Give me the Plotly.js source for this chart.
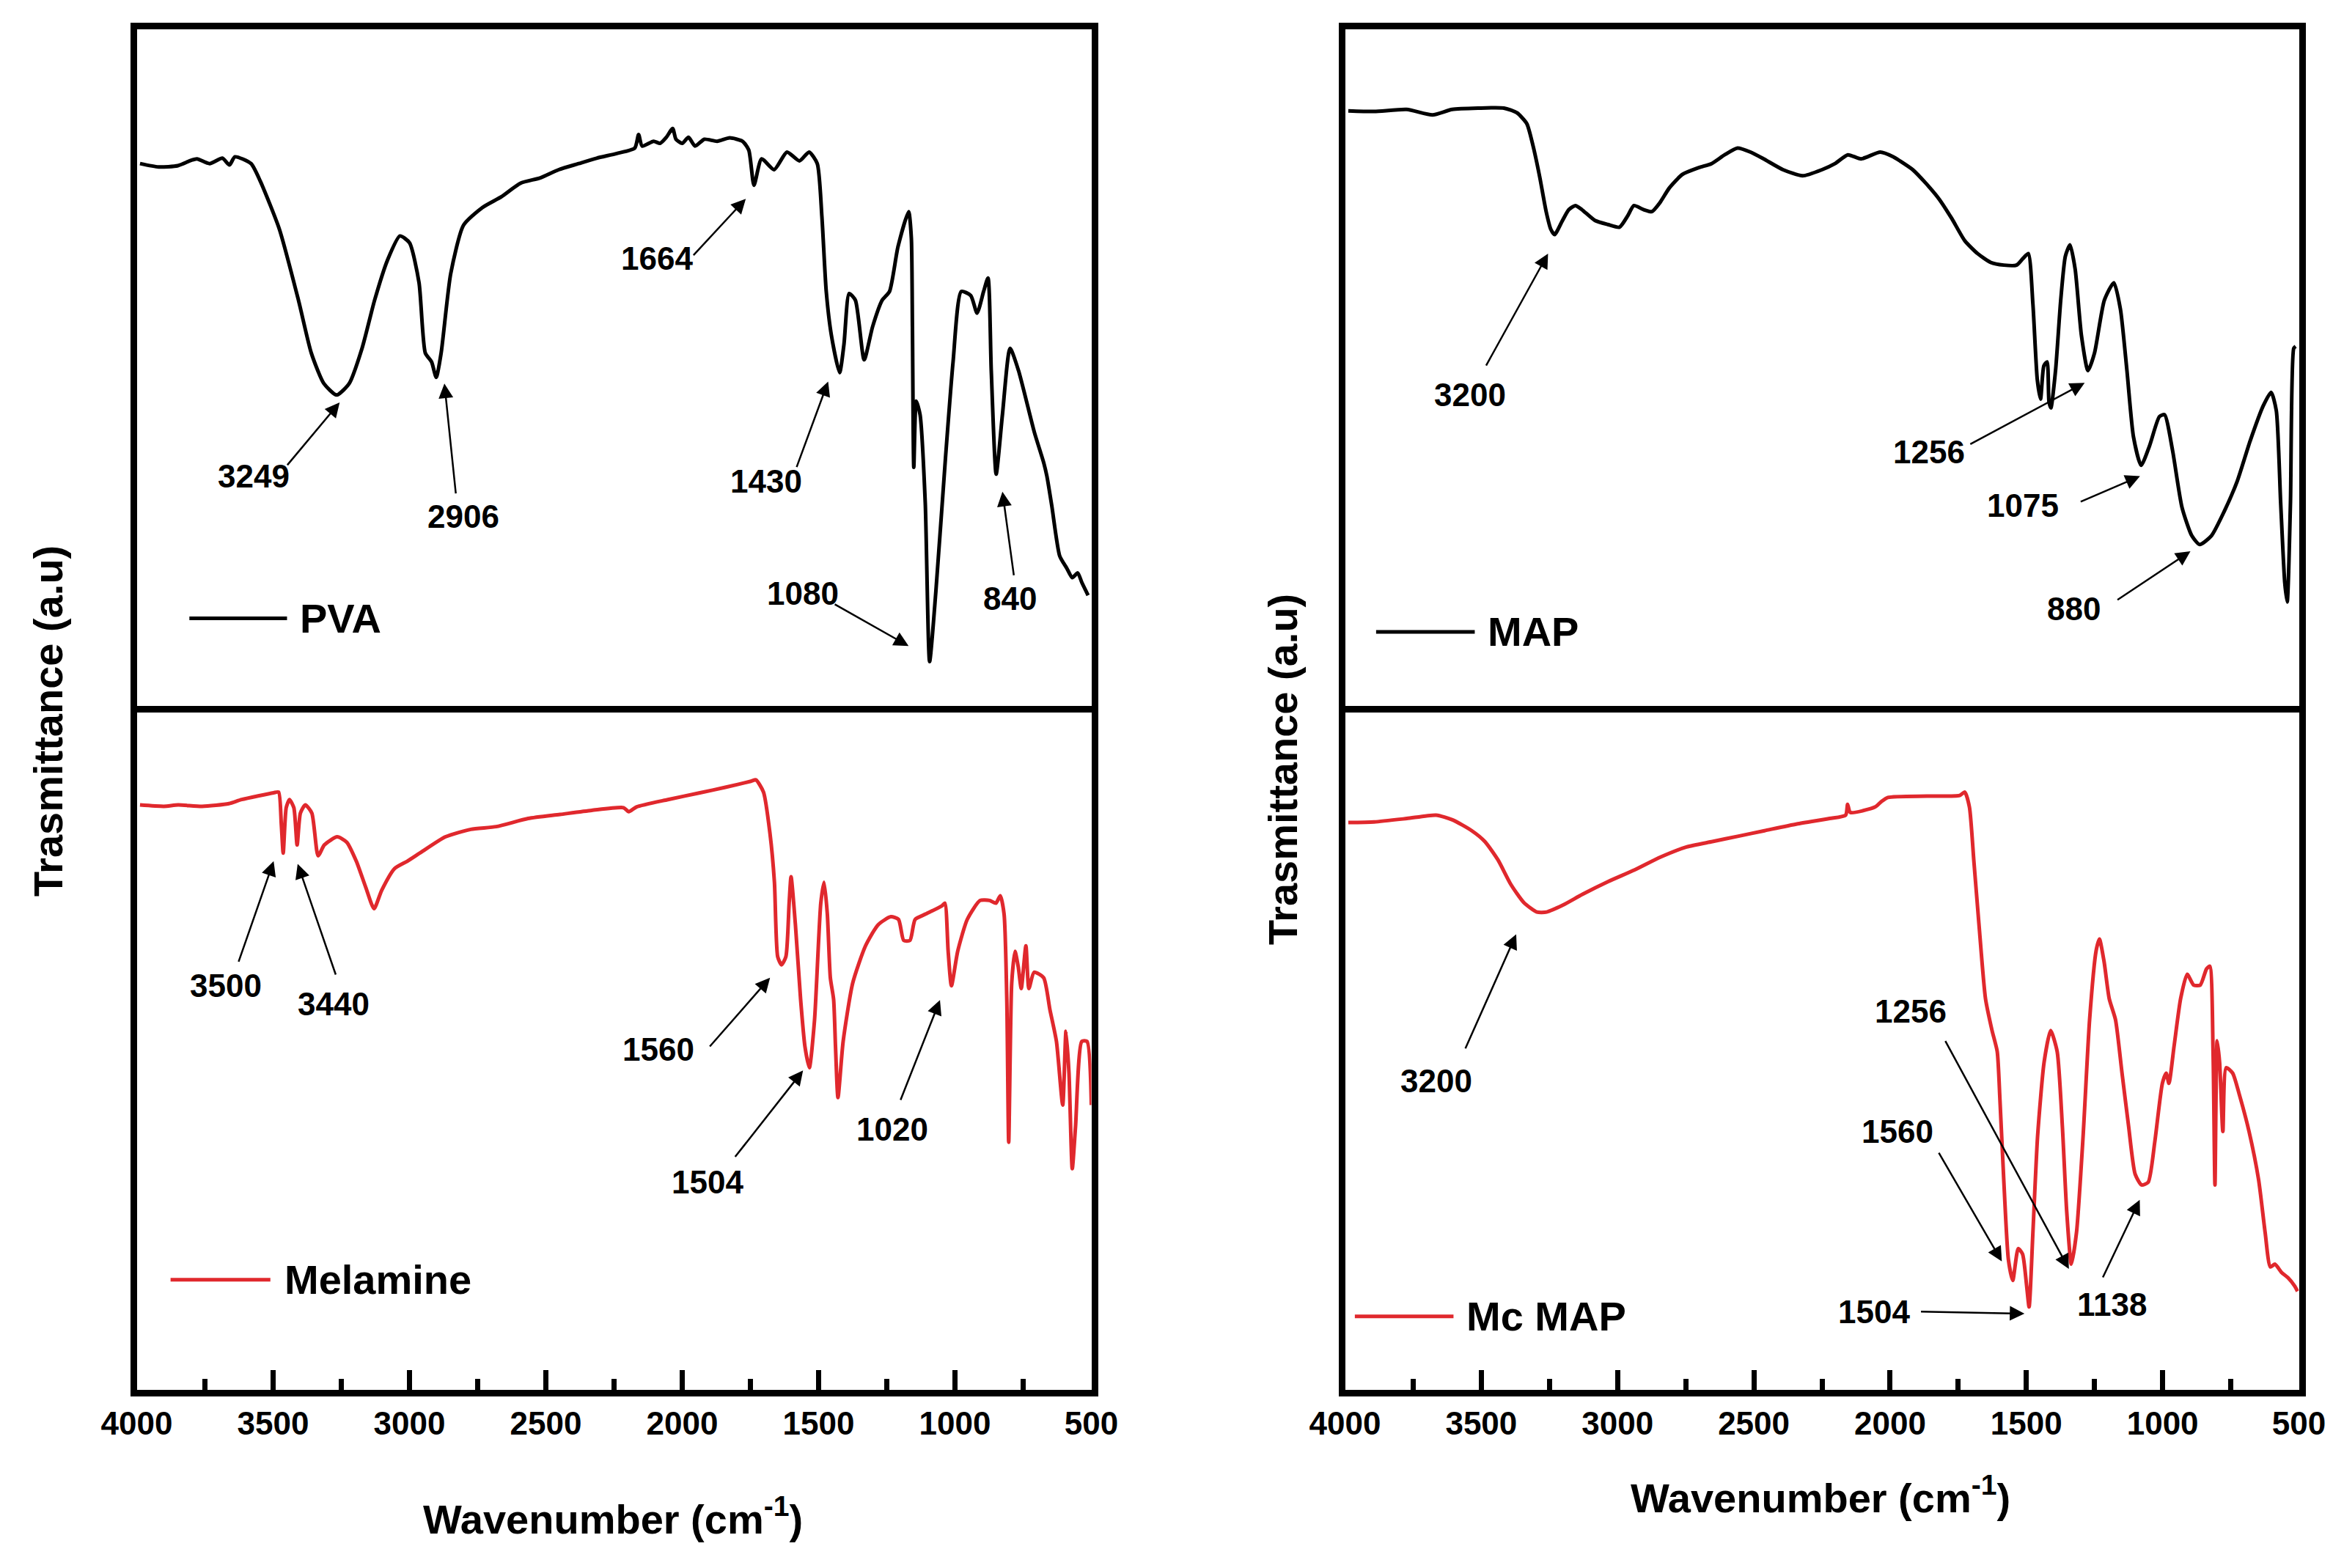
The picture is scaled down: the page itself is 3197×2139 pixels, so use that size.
<!DOCTYPE html>
<html>
<head>
<meta charset="utf-8">
<script src="https://cdn.plot.ly/plotly-3.0.1.min.js"></script>
<style>html,body{margin:0;padding:0;background:#fff;}#chart{width:3197px;height:2139px;}</style>
</head>
<body>
<div id="chart"></div>
<script>
// ---------------- DATA ----------------
const seriesNames = ['PVA', 'Melamine', 'MAP', 'Mc MAP'];
const tickValues = [4000, 3500, 3000, 2500, 2000, 1500, 1000, 500];
const tickLabels = ['4000', '3500', '3000', '2500', '2000', '1500', '1000', '500'];
const xTitle = 'Wavenumber (cm<sup>-1</sup>)';
const yTitle = 'Trasmittance (a.u)';

// PVA (top-left)
const pvaWn = [3988,3920,3849,3800,3779,3733,3686,3660,3640,3581,3547,3477,3407,3360,3314,3267,3221,3174,3128,3081,3035,3000,2965,2942,2919,2902,2884,2849,2802,2733,2663,2593,2520,2453,2380,2314,2240,2174,2160,2147,2105,2081,2058,2035,2023,2000,1977,1953,1919,1872,1826,1779,1756,1737,1709,1663,1616,1570,1535,1505,1488,1472,1453,1423,1407,1388,1365,1333,1302,1267,1240,1209,1170,1160,1156,1151,1142,1128,1109,1093,1070,1035,1007,977,942,919,895,879,867,849,826,798,767,709,674,663,645,616,590,570,550,535,512];
const pvaT  = [80.1,79.6,79.8,80.6,80.8,80.1,80.9,79.9,81.1,80.1,77.5,70.4,59.9,52.1,47.6,45.9,47.6,52.8,59.9,65.8,69.4,68.4,62.5,52.1,50.8,48.5,52.1,63.8,71.0,73.6,75.2,77.2,78.0,79.2,80.1,80.9,81.6,82.4,84.4,82.7,83.4,83.1,84.0,85.3,83.7,83.1,84.0,82.7,83.7,83.4,83.9,83.4,82.1,76.9,80.8,79.2,81.8,80.5,81.8,80.1,72.3,61.2,54.7,49.2,53.4,60.9,59.9,51.1,56.0,59.9,61.2,67.8,73.0,69.1,56.0,35.2,45.0,43.0,30.0,6.5,16.9,36.5,50.8,61.2,60.6,58.0,61.2,63.2,49.5,34.2,43.0,52.8,49.5,40.4,35.8,33.9,29.5,22.1,20.3,18.9,19.6,18.2,16.3];

// Melamine (bottom-left)
const melWn = [3988,3900,3848,3760,3662,3615,3498,3480,3470,3463,3452,3440,3424,3412,3400,3382,3358,3335,3312,3265,3230,3195,3160,3130,3102,3055,3008,2962,2868,2775,2682,2565,2448,2332,2215,2196,2168,2052,1935,1842,1748,1730,1702,1678,1662,1650,1636,1620,1608,1601,1585,1566,1550,1534,1515,1492,1480,1468,1457,1445,1438,1429,1410,1375,1328,1282,1235,1207,1188,1165,1146,1107,1048,1037,1025,1013,990,955,908,873,850,834,820,810,803,792,780,768,757,740,729,710,675,652,628,605,593,582,570,558,535,516,500];
const melT  = [86.3,86.1,86.3,86.1,86.5,87.1,88.1,88.2,83.5,79.2,85.9,87.1,85.9,80.4,85.1,86.3,85.1,78.8,80.4,81.6,80.8,78.0,74.1,71.0,73.7,76.9,78.0,79.2,81.6,82.7,83.1,84.3,84.9,85.5,85.9,85.3,86.0,87.1,88.1,88.9,89.8,90.0,88.2,82.0,74.9,63.9,62.7,63.9,71.8,75.7,68.6,57.6,50.6,47.5,54.5,71.8,74.9,70.2,60.8,57.6,50.6,43.1,51.4,60.0,65.5,68.6,69.8,69.4,66.3,66.3,69.4,70.2,71.4,71.8,64.7,59.6,64.7,69.4,72.2,72.2,71.8,72.9,70.2,57.6,36.5,60.0,64.7,62.4,59.2,65.5,59.2,61.6,60.8,56.1,51.4,42.0,52.9,46.7,32.6,38.8,51.4,51.4,42.0];

// MAP (top-right)
const mapWn = [3988,3893,3774,3679,3607,3512,3417,3369,3333,3310,3286,3262,3245,3231,3202,3179,3155,3131,3083,3036,2993,2964,2940,2905,2874,2845,2810,2762,2702,2655,2607,2560,2512,2464,2393,2321,2250,2202,2155,2107,2036,1988,1964,1917,1869,1821,1774,1726,1679,1631,1583,1536,1512,1493,1476,1460,1448,1436,1424,1417,1410,1393,1374,1357,1340,1321,1298,1274,1250,1214,1179,1155,1131,1107,1079,1048,1012,993,964,929,893,864,821,774,726,679,631,602,583,567,552,543,531,519,512];
const mapT  = [87.9,87.8,88.1,87.3,88.1,88.3,88.3,87.6,86.0,82.7,78.2,73.0,70.4,69.6,71.7,73.3,73.9,73.3,71.7,71.1,70.7,72.3,73.9,73.3,73.0,74.3,76.5,78.5,79.5,80.1,81.4,82.4,81.8,80.8,79.2,78.3,79.2,80.1,81.4,80.8,81.8,81.1,80.5,79.2,77.2,74.9,72.0,68.7,66.8,65.5,65.1,65.1,66.1,66.8,59.3,48.2,45.3,50.2,50.8,44.9,44.0,49.5,59.9,66.4,68.1,64.5,54.7,49.5,52.1,59.9,62.5,58.6,49.5,39.7,35.5,38.4,42.7,43.0,37.8,29.3,25.1,23.8,25.1,28.7,33.2,39.1,44.3,46.3,43.6,30.0,18.2,15.3,30.0,52.8,53.1];

// Mc MAP (bottom-right)
const mcWn = [3988,3893,3773,3666,3606,3535,3487,3439,3392,3344,3296,3260,3201,3129,3034,2938,2843,2747,2652,2556,2461,2342,2222,2163,2156,2146,2055,2032,2008,1865,1745,1726,1709,1693,1674,1650,1626,1607,1597,1583,1566,1550,1530,1514,1499,1490,1476,1459,1435,1411,1387,1368,1352,1335,1316,1292,1268,1244,1232,1215,1196,1173,1149,1125,1101,1077,1053,1029,1001,987,977,958,934,910,886,862,839,827,815,808,800,791,779,767,743,719,683,648,624,605,588,564,540,516,505];
const mcT  = [83.7,83.8,84.3,84.8,84.1,82.5,80.9,78.2,74.6,71.9,70.5,70.5,71.5,73.1,75.0,76.7,78.6,80.1,80.9,81.7,82.5,83.5,84.3,84.8,86.4,85.2,86.0,86.8,87.4,87.6,87.7,88.2,86.0,78.2,68.7,57.7,53.0,49.9,42.8,31.0,19.2,16.1,20.8,20.0,15.3,12.2,23.2,37.3,48.3,53.0,49.9,38.9,26.3,18.5,23.2,37.3,54.6,64.8,66.5,63.2,57.7,54.6,46.7,38.9,31.8,30.2,30.6,36.5,45.2,46.7,45.2,50.7,57.7,61.3,59.7,59.7,62.1,62.5,49.9,30.2,51.5,48.3,38.1,47.5,46.7,43.6,38.1,31.0,23.2,18.1,18.5,17.3,16.5,15.3,14.5];

// Peak labels of each panel
const pvaPeaks = ['3249', '2906', '1664', '1430', '1080', '840'];
const melPeaks = ['3500', '3440', '1560', '1504', '1020'];
const mapPeaks = ['3200', '1256', '1075', '880'];
const mcPeaks  = ['3200', '1256', '1560', '1504', '1138'];

// ---------------- LAYOUT ----------------
const W = 3197, H = 2139;
const BLACK = '#000000', RED = '#e0282d';
const FONT = 'Liberation Sans, Arial, Helvetica, sans-serif';

// panel boxes in pixels (inner edge of the frame)
const LEFT = [186.5, 1488.5], RIGHT = [1834.5, 3135.5];
const TOP = [39.5, 962.5], BOTTOM = [971.5, 1895.5];
const domX = b => [b[0] / W, b[1] / W];
const domY = b => [1 - b[1] / H, 1 - b[0] / H];

const frame = {showline: true, mirror: true, linewidth: 9, linecolor: BLACK, showgrid: false, zeroline: false};
const topX = Object.assign({}, frame, {range: [4000, 500], ticks: '', showticklabels: false});
const botX = Object.assign({}, frame, {
  range: [4000, 500], ticks: 'inside', ticklen: 27, tickwidth: 7, tickcolor: BLACK,
  tickmode: 'array', tickvals: tickValues, ticktext: tickLabels,
  tickfont: {family: FONT, size: 44, color: BLACK, weight: 'bold'},
  minor: {ticks: 'inside', ticklen: 15, tickwidth: 7, tickcolor: BLACK, dtick: 250, tick0: 0, showgrid: false}
});
const yAx = Object.assign({}, frame, {range: [0, 100], ticks: '', showticklabels: false});

function trace(x, y, color, xa, ya, name) {
  return {x: x, y: y, type: 'scatter', mode: 'lines', name: name, xaxis: xa, yaxis: ya,
    line: {color: color, width: 5, shape: 'spline', smoothing: 0.6}, hoverinfo: 'skip'};
}
const data = [
  trace(pvaWn, pvaT, BLACK, 'x', 'y', seriesNames[0]),
  trace(melWn, melT, RED, 'x2', 'y2', seriesNames[1]),
  trace(mapWn, mapT, BLACK, 'x3', 'y3', seriesNames[2]),
  trace(mcWn, mcT, RED, 'x4', 'y4', seriesNames[3])
];

// label placement: [text x, text y, arrow tail x, tail y, arrow head x, head y]
const pvaPos = [[3570,33.9,3449,35.5,3256,44.8],[2802,28.0,2830,31.3,2872,47.6],[2093,66.1,1960,66.5,1767,74.9],
                [1691,33.2,1581,35.2,1465,47.9],[1558,16.6,1442,15.0,1170,8.8],[798,15.8,784,19.2,826,31.6]];
const melPos = [[3673,59.6,3627,63.1,3498,78.0],[3277,56.9,3270,61.2,3410,77.6],[2087,50.2,1900,50.6,1678,60.8],
                [1907,30.6,1807,34.3,1557,47.1],[1230,38.4,1200,42.7,1055,57.5]];
const mapPos = [[3540,45.9,3483,50.2,3255,66.8],[1857,37.5,1707,38.6,1286,47.7],[1512,29.6,1302,30.1,1083,33.9],
                [1326,14.3,1167,15.6,898,22.8]];
const mcPos  = [[3666,45.6,3559,50.3,3372,67.2],[1924,55.8,1798,51.5,1344,17.8],[1972,38.1,1822,35.0,1590,18.9],
                [2060,11.5,1888,11.5,1507,11.2],[1185,12.6,1220,16.5,1084,28.0]];

const annotations = [];
function addPeaks(labels, pos, xa, ya) {
  labels.forEach((lab, i) => {
    const p = pos[i];
    annotations.push({xref: xa, yref: ya, x: p[0], y: p[1], text: lab, showarrow: false,
      xanchor: 'center', yanchor: 'middle', font: {family: FONT, size: 44, color: BLACK, weight: 'bold'}});
    annotations.push({xref: xa, yref: ya, axref: xa, ayref: ya, x: p[4], y: p[5], ax: p[2], ay: p[3],
      text: '', font: {size: 1}, borderpad: 0, showarrow: true, arrowhead: 2, arrowsize: 1.6,
      arrowwidth: 2.5, arrowcolor: BLACK, standoff: 0, startstandoff: 0});
  });
}
addPeaks(pvaPeaks, pvaPos, 'x', 'y');
addPeaks(melPeaks, melPos, 'x2', 'y2');
addPeaks(mapPeaks, mapPos, 'x3', 'y3');
addPeaks(mcPeaks, mcPos, 'x4', 'y4');

// in-plot legends: [line start, line end, y, text start]
const legPos = [[3807, 3449, 12.9, 3407], [3876, 3510, 16.2, 3463], [3886, 3524, 10.9, 3483], [3964, 3602, 10.8, 3559]];
const legAxes = [['x', 'y', BLACK], ['x2', 'y2', RED], ['x3', 'y3', BLACK], ['x4', 'y4', RED]];
const shapes = [];
seriesNames.forEach((nm, i) => {
  const p = legPos[i], a = legAxes[i];
  shapes.push({type: 'line', xref: a[0], yref: a[1], x0: p[0], x1: p[1], y0: p[2], y1: p[2], line: {color: a[2], width: 5}});
  annotations.push({xref: a[0], yref: a[1], x: p[3], y: p[2], text: nm, showarrow: false, xanchor: 'left', yanchor: 'middle',
    font: {family: FONT, size: 56, color: BLACK, weight: 'bold'}});
});

// axis titles (pixel centres)
const titleFont = {family: FONT, size: 56, color: BLACK, weight: 'bold'};
[[836, 2068], [2483, 2039]].forEach(c => annotations.push({xref: 'paper', yref: 'paper', x: c[0] / W, y: 1 - c[1] / H,
  text: xTitle, showarrow: false, xanchor: 'center', yanchor: 'middle', font: titleFont}));
[[65, 984], [1750, 1050]].forEach(c => annotations.push({xref: 'paper', yref: 'paper', x: c[0] / W, y: 1 - c[1] / H,
  text: yTitle, textangle: -90, showarrow: false, xanchor: 'center', yanchor: 'middle', font: titleFont}));

const layout = {
  width: W, height: H, margin: {l: 0, r: 0, t: 0, b: 0, pad: 0},
  paper_bgcolor: '#ffffff', plot_bgcolor: '#ffffff', showlegend: false,
  xaxis:  Object.assign({}, topX, {domain: domX(LEFT),  anchor: 'y'}),
  yaxis:  Object.assign({}, yAx,  {domain: domY(TOP),   anchor: 'x'}),
  xaxis2: Object.assign({}, botX, {domain: domX(LEFT),  anchor: 'y2'}),
  yaxis2: Object.assign({}, yAx,  {domain: domY(BOTTOM), anchor: 'x2'}),
  xaxis3: Object.assign({}, topX, {domain: domX(RIGHT), anchor: 'y3'}),
  yaxis3: Object.assign({}, yAx,  {domain: domY(TOP),   anchor: 'x3'}),
  xaxis4: Object.assign({}, botX, {domain: domX(RIGHT), anchor: 'y4'}),
  yaxis4: Object.assign({}, yAx,  {domain: domY(BOTTOM), anchor: 'x4'}),
  shapes: shapes, annotations: annotations
};

Plotly.newPlot('chart', data, layout, {staticPlot: true, displayModeBar: false});
</script>
</body>
</html>
